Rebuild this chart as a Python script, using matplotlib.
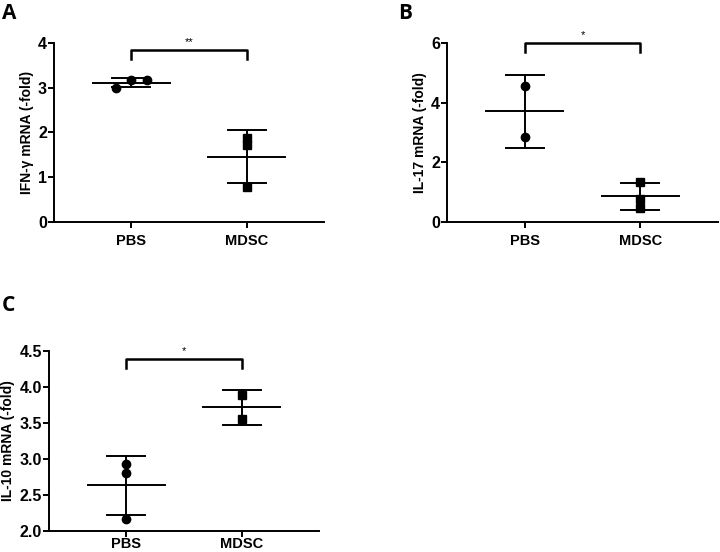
import numpy as np
import matplotlib.pyplot as plt

plt.rcParams['font.family'] = ['Liberation Sans', 'DejaVu Sans']
plt.rcParams['font.weight'] = 'bold'

groups = ['PBS', 'MDSC']

# panel A: IFN-gamma
ifn_pbs = [3.00, 3.17, 3.17]
ifn_pbs_x = [-0.13, 0.0, 0.14]
ifn_mdsc = [1.88, 1.72, 0.78]
ifn_mdsc_x = [0.0, 0.0, 0.0]

# panel B: IL-17
il17_pbs = [4.57, 2.85]
il17_pbs_x = [0.0, 0.0]
il17_mdsc = [1.35, 0.78, 0.45]
il17_mdsc_x = [0.0, 0.0, 0.0]

# panel C: IL-10
il10_pbs = [2.93, 2.81, 2.17]
il10_pbs_x = [0.0, 0.0, 0.0]
il10_mdsc = [3.89, 3.55]
il10_mdsc_x = [0.0, 0.0]

fig = plt.figure(figsize=(7.2, 5.52), dpi=100)


def draw_panel(ax, pbs, pbs_x, mdsc, mdsc_x, ylim, yticks, yticklabels, ylabel,
               bracket_y, bracket_drop, stars, xpad):
    for i, (vals, offs, marker) in enumerate([(pbs, pbs_x, 'o'), (mdsc, mdsc_x, 's')]):
        vals = np.array(vals)
        m = vals.mean()
        sd = vals.std(ddof=1)
        # mean line
        ax.plot([i - 0.335, i + 0.335], [m, m], color='black', lw=1.4, zorder=2)
        # error bar
        ax.plot([i, i], [m - sd, m + sd], color='black', lw=1.4, zorder=2)
        for v in (m - sd, m + sd):
            ax.plot([i - 0.165, i + 0.165], [v, v], color='black', lw=1.4, zorder=2)
        ax.plot(np.array(offs) + i, vals, linestyle='none', marker=marker,
                color='black', markersize=6, zorder=3)

    # significance bracket
    ax.plot([0, 0, 1, 1], [bracket_y - bracket_drop, bracket_y, bracket_y, bracket_y - bracket_drop],
            color='black', lw=1.8, clip_on=False)
    ax.text(0.5, bracket_y + bracket_drop * 0.3, stars, ha='center', va='bottom',
            fontsize=8, fontweight='normal')

    ax.set_xlim(-0.67, 1.67)
    ax.set_ylim(*ylim)
    ax.set_xticks([0, 1])
    ax.set_xticklabels(groups, fontsize=10.5, fontweight='bold')
    ax.set_yticks(yticks)
    ax.set_yticklabels(yticklabels, fontsize=11.5, fontweight='bold')
    ax.set_ylabel(ylabel, fontsize=10, fontweight='bold', labelpad=3)
    ax.spines['top'].set_visible(False)
    ax.spines['right'].set_visible(False)
    for s in ('left', 'bottom'):
        ax.spines[s].set_linewidth(1.4)
    ax.tick_params(width=1.4, length=4, pad=1)
    ax.tick_params(axis='x', pad=xpad)


ax_a = fig.add_axes([0.075, 0.598, 0.375, 0.324])
draw_panel(ax_a, ifn_pbs, ifn_pbs_x, ifn_mdsc, ifn_mdsc_x, (0, 4),
           [0, 1, 2, 3, 4], ['0', '1', '2', '3', '4'], 'IFN-γ mRNA (-fold)',
           3.84, 0.2, '**', 5)

ax_b = fig.add_axes([0.621, 0.598, 0.376, 0.324])
draw_panel(ax_b, il17_pbs, il17_pbs_x, il17_mdsc, il17_mdsc_x, (0, 6),
           [0, 2, 4, 6], ['0', '2', '4', '6'], 'IL-17 mRNA (-fold)',
           6.0, 0.3, '*', 5)

ax_c = fig.add_axes([0.068, 0.038, 0.375, 0.326])
draw_panel(ax_c, il10_pbs, il10_pbs_x, il10_mdsc, il10_mdsc_x, (2.0, 4.5),
           [2.0, 2.5, 3.0, 3.5, 4.0, 4.5], ['2.0', '2.5', '3.0', '3.5', '4.0', '4.5'],
           'IL-10 mRNA (-fold)', 4.39, 0.13, '*', 0)

for letter, x, y in [('A', 0.003, 0.995), ('B', 0.553, 0.995), ('C', 0.003, 0.465)]:
    fig.text(x, y, letter, fontsize=15, fontweight='bold', va='top', ha='left',
             family=['Open Sans', 'DejaVu Sans'])

fig.savefig('out.png', dpi=100)
